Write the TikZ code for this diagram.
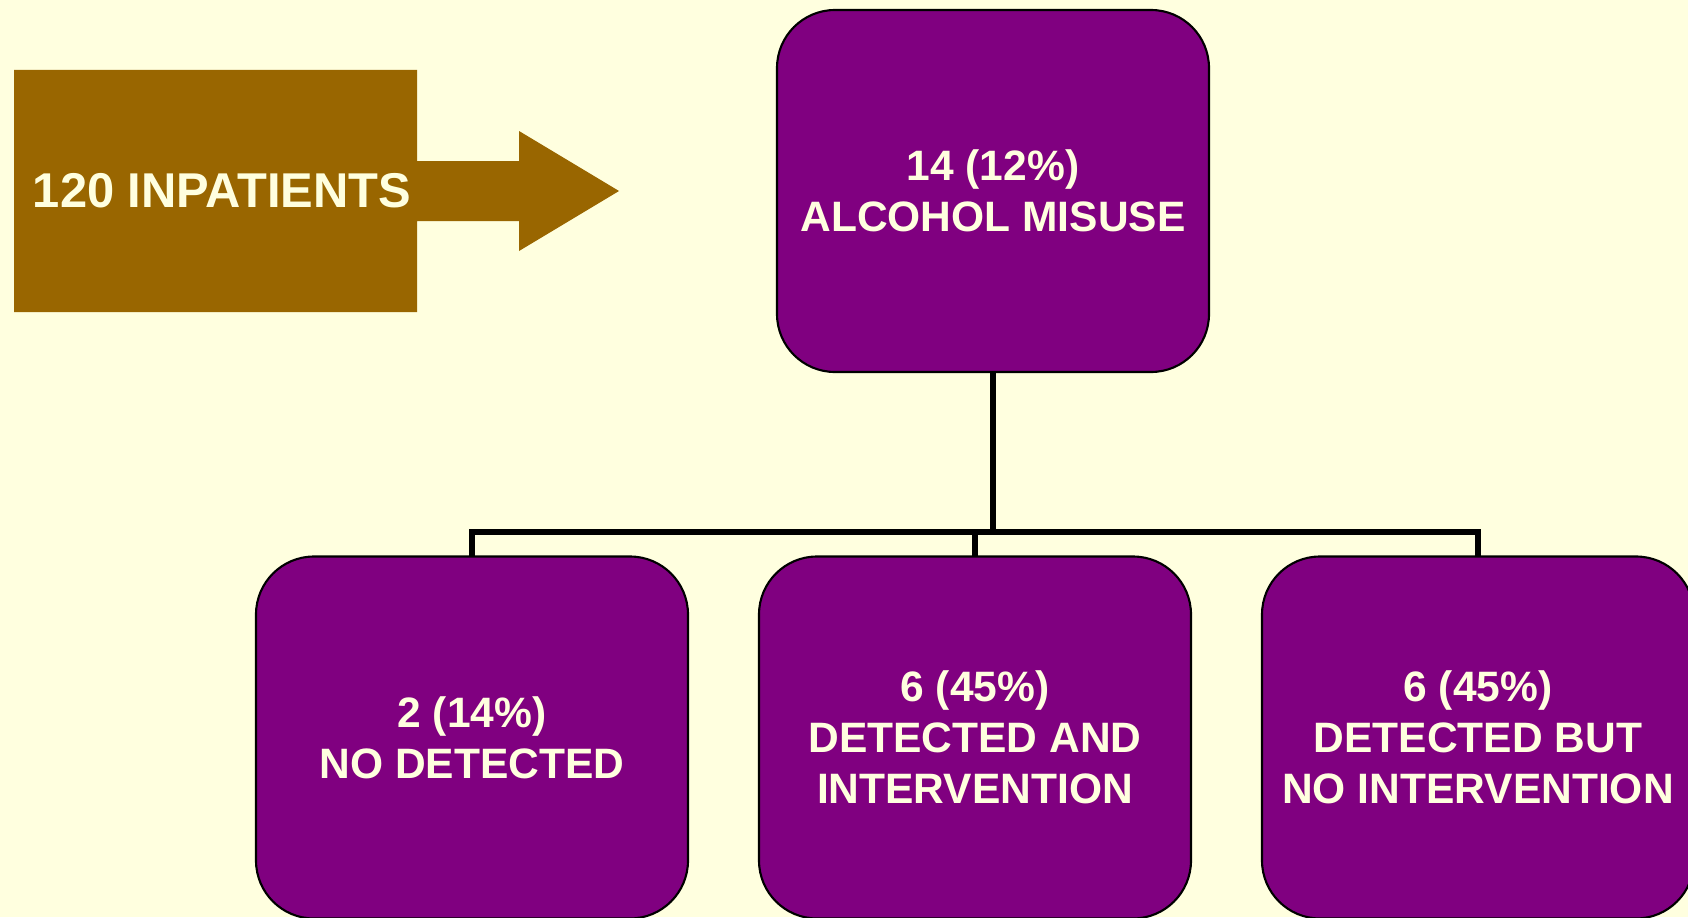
\documentclass[tikz,border=0pt]{standalone}
\usepackage{fontspec}
\setmainfont{Liberation Sans}
\definecolor{cream}{HTML}{FFFFDF}
\definecolor{plum}{HTML}{800080}
\definecolor{ochre}{HTML}{996600}

\begin{document}
\begin{tikzpicture}[every node/.style={outer sep=0pt, text=cream, align=center, font=\bfseries\fontsize{12.1}{14.5}\selectfont},
  box/.style={draw=black, line width=0.6pt, fill=plum, rounded corners=0.58cm, minimum width=4.32cm, minimum height=3.62cm},
  link/.style={draw=black, line width=1.6pt}]
\useasboundingbox (0,0) rectangle (16.88,9.17);
\fill[cream] (0,0) rectangle (16.88,9.17);

\fill[ochre] (0.14,8.47) -- (4.17,8.47) -- (4.17,7.56) -- (5.19,7.56) -- (5.19,7.86) -- (6.19,7.26) -- (5.19,6.66) -- (5.19,6.96) -- (4.17,6.96) -- (4.17,6.05) -- (0.14,6.05) -- cycle;
\node[font=\bfseries\fontsize{13.9}{16}\selectfont] (inpat) at (2.22,7.26) {120 INPATIENTS};

\node[box] (misuse) at (9.93,7.26) {14 (12\%)\\ALCOHOL MISUSE};
\node[box] (nodet) at (4.72,1.795) {2 (14\%)\\NO DETECTED};
\node[box] (interv) at (9.75,1.795) {6 (45\%)\\DETECTED AND\\INTERVENTION};
\node[box] (nointerv) at (14.78,1.795) {6 (45\%)\\DETECTED BUT\\NO INTERVENTION};

\coordinate (bar) at (9.93,3.85);
\draw[link] (misuse.south) -- (bar);
\draw[link] (nodet.north) |- (bar) -| (nointerv.north);
\draw[link] (interv.north) -- (interv.north |- bar);
\end{tikzpicture}
\end{document}
